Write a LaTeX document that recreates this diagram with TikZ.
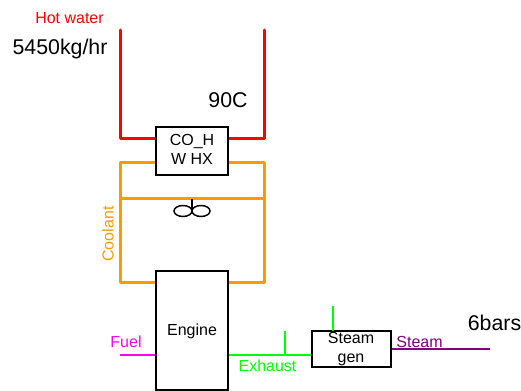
\documentclass[tikz,border=0pt]{standalone}
\usepackage{fontspec}
\setmainfont{Liberation Sans}
\definecolor{hot}{HTML}{FF0000}
\definecolor{cool}{HTML}{FF9900}
\definecolor{exh}{HTML}{00FF00}
\definecolor{fuelc}{HTML}{FF00FF}
\definecolor{stm}{HTML}{800080}
\tikzset{
  px/.style={x=0.75pt,y=-0.75pt},
  boxn/.style={draw=black,line width=1.5pt,fill=white,inner sep=0pt,minimum width=54pt},
  lab/.style={inner sep=0pt,anchor=base,font=\fontsize{12}{14}\selectfont},
  big/.style={inner sep=0pt,anchor=base,font=\fontsize{16}{19}\selectfont},
  hotl/.style={draw=hot,line width=2.25pt,line cap=round,line join=round},
  cooll/.style={draw=cool,line width=2.25pt,line cap=round,line join=round},
  exhl/.style={draw=exh,line width=1.5pt},
  fuell/.style={draw=fuelc,line width=1.5pt},
  stml/.style={draw=stm,line width=1.5pt},
  fanl/.style={draw=black,line width=1.1pt}
}
\begin{document}
\begin{tikzpicture}[px]
\useasboundingbox (0,0) rectangle (521,391);
% free ends and junctions
\coordinate (hwLtop) at (120.5,30);
\coordinate (hwRtop) at (264,30);
\coordinate (hwLin) at (156,139);
\coordinate (hwRin) at (228,139);
\coordinate (clLt) at (156,162.5);
\coordinate (clRt) at (228,162.5);
\coordinate (clLb) at (156,283);
\coordinate (clRb) at (228,283);
\coordinate (busL) at (120.5,199);
\coordinate (busR) at (264,199);
\coordinate (fanTop) at (192,199);
\coordinate (fanHub) at (192,211);
\coordinate (fuelEnd) at (120,355);
\coordinate (fuelIn) at (156,355);
\coordinate (exOut) at (228,355);
\coordinate (exIn) at (312,355);
\coordinate (exJ) at (285,355);
\coordinate (exStub) at (285,331);
\coordinate (sgStub) at (333,306);
\coordinate (sgTop) at (333,331);
\coordinate (stOut) at (391,349);
\coordinate (stEnd) at (490,349);
% pipes
\draw[hotl] (hwLtop) |- (hwLin);
\draw[hotl] (hwRtop) |- (hwRin);
\draw[cooll] (clLt) -| (busL) |- (clLb);
\draw[cooll] (clRt) -| (busR) |- (clRb);
\draw[cooll] (busL) -- (busR);
\draw[fuell] (fuelEnd) -- (fuelIn);
\draw[exhl] (exOut) -- (exIn);
\draw[exhl] (exJ) -- (exStub);
\draw[stml] (stOut) -- (stEnd);
% boxes
\node[boxn,minimum height=36pt] (hx) at (192,151) {};
\node[boxn,minimum height=89pt] (engine) at (192,330.5) {};
\node[boxn,minimum width=59pt,minimum height=27pt] (sg) at (351.5,349) {};
\draw[exhl] (sgStub) -- (sgTop);
% fan
\draw[fanl] (fanTop) -- (fanHub);
\draw[fanl] (183,211) ellipse [x radius=9,y radius=5.5];
\draw[fanl] (201,211) ellipse [x radius=9,y radius=5.5];
% labels
\node[lab,text=hot] (lhot) at (69.5,24) {Hot water};
\node[big] (lflow) at (60,55) {5450kg/hr};
\node[big] (ltemp) at (228,108) {90C};
\node[lab] (lhx1) at (192,146) {CO\_H};
\node[lab] (lhx2) at (192,165) {W HX};
\node[lab,text=cool,rotate=90,anchor=base] (lcool) at (113.5,234) {Coolant};
\node[lab] (lengine) at (192,336) {Engine};
\node[lab,text=fuelc] (lfuel) at (126,348) {Fuel};
\node[lab,text=exh] (lexh) at (267.5,372) {Exhaust};
\node[lab] (lsg1) at (351,344) {Steam};
\node[lab] (lsg2) at (351,363) {gen};
\node[lab,text=stm] (lstm) at (419.5,348) {Steam};
\node[big] (lbar) at (494.5,331) {6bars};
\end{tikzpicture}
\end{document}
